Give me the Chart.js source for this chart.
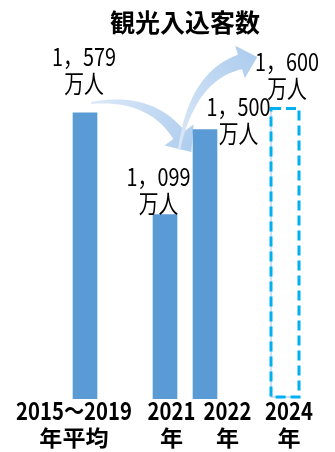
<!DOCTYPE html>
<html>
<head>
<meta charset="utf-8">
<script src="https://cdn.jsdelivr.net/npm/chart.js@4/dist/chart.umd.min.js"></script>
<style>
  body { margin: 0; background: #fff; }
  #wrap { width: 335px; height: 452px; }
</style>
</head>
<body>
<div id="wrap"><canvas id="kankou"></canvas></div>
<script>
// 観光入込客数 (万人)

var categories = [['2015～2019', '年平均'], ['2021', '年'], ['2022', '年'], ['2024', '年']];
var visitors = [1579, 1099, 1500, null];   // 実績
var target = [null, null, null, 1600];     // 目標 (点線)
var unit = '万人';

// each category sits on a 6 slot axis, the other slots stay empty as gaps
var slots = [0, 2, 3, 5];

var FONT = '"Noto Sans CJK JP", "Noto Sans", sans-serif';

var slotLabels = ['', '', '', '', '', ''];
var visitorData = [null, null, null, null, null, null];
var targetData = [null, null, null, null, null, null];
slots.forEach(function (s, i) {
  slotLabels[s] = categories[i].join('');
  visitorData[s] = visitors[i];
  targetData[s] = target[i];
});

// label offsets from bar centre / bar top (the 2022 one sits beside its bar)
var valueOffset = [[-1, -29], [-6.5, -11], [33.5, 4], [2, -20]];
var catOffset = [-11, 6.5, 22.5, 4];

function txt(ctx, s, x, y, font, sx, sy) {
  ctx.save();
  ctx.translate(x, y);
  ctx.scale(sx, sy);
  ctx.font = font;
  ctx.fillStyle = '#000';
  ctx.textAlign = 'center';
  ctx.textBaseline = 'middle';
  ctx.fillText(s, 0, 0);
  ctx.restore();
}

function arrow(ctx, p0, c, p1, w0, w1, headHalf, headLen) {
  var N = 40, left = [], right = [];
  for (var i = 0; i <= N; i++) {
    var t = i / N, u = 1 - t;
    var x = u * u * p0[0] + 2 * u * t * c[0] + t * t * p1[0];
    var y = u * u * p0[1] + 2 * u * t * c[1] + t * t * p1[1];
    var dx = 2 * u * (c[0] - p0[0]) + 2 * t * (p1[0] - c[0]);
    var dy = 2 * u * (c[1] - p0[1]) + 2 * t * (p1[1] - c[1]);
    var len = Math.hypot(dx, dy);
    dx /= len; dy /= len;
    var w = (w0 + (w1 - w0) * t) / 2;
    left.push([x - dy * w, y + dx * w]);
    right.push([x + dy * w, y - dx * w]);
  }
  var ex = p1[0] - c[0], ey = p1[1] - c[1], el = Math.hypot(ex, ey);
  ex /= el; ey /= el;
  var nx = -ey, ny = ex;
  var tip = [p1[0] + ex * headLen, p1[1] + ey * headLen];

  var g = ctx.createLinearGradient(p0[0], p0[1], tip[0], tip[1]);
  g.addColorStop(0, '#dce9f7');
  g.addColorStop(1, '#aecdee');

  ctx.save();
  ctx.beginPath();
  ctx.moveTo(left[0][0], left[0][1]);
  left.forEach(function (p) { ctx.lineTo(p[0], p[1]); });
  ctx.lineTo(p1[0] + nx * headHalf, p1[1] + ny * headHalf);
  ctx.lineTo(tip[0], tip[1]);
  ctx.lineTo(p1[0] - nx * headHalf, p1[1] - ny * headHalf);
  for (var j = right.length - 1; j >= 0; j--) ctx.lineTo(right[j][0], right[j][1]);
  ctx.closePath();
  ctx.fillStyle = g;
  ctx.fill();
  ctx.restore();
}

function barAt(chart, slot) {
  for (var d = 0; d < chart.data.datasets.length; d++) {
    if (chart.data.datasets[d].data[slot] != null) {
      return { el: chart.getDatasetMeta(d).data[slot], ds: d };
    }
  }
  return null;
}

var decor = {
  id: 'decor',
  beforeDatasetsDraw: function (chart) {
    var ctx = chart.ctx;
    arrow(ctx, [91, 103], [150, 95], [179, 135], 2, 14, 18, 21);
    arrow(ctx, [179, 150], [192, 76], [240, 62], 2, 15, 17, 18);
  },
  afterDatasetsDraw: function (chart) {
    var ctx = chart.ctx;
    var bottom = chart.chartArea.bottom;

    // dashed outline for the target bar
    var tm = chart.getDatasetMeta(1);
    tm.data.forEach(function (el, i) {
      if (targetData[i] == null) return;
      var p = el.getProps(['x', 'y', 'base', 'width'], true);
      var l = p.x - p.width / 2;
      var b = Math.min(p.base, bottom - 2);
      ctx.save();
      ctx.strokeStyle = '#9dc3e6';
      ctx.lineWidth = 1;
      ctx.beginPath();
      ctx.moveTo(l, p.y);
      ctx.lineTo(l, b);
      ctx.lineTo(l + p.width, b);
      ctx.stroke();
      ctx.strokeStyle = '#00b0f0';
      ctx.lineWidth = 3;
      ctx.setLineDash([10, 5]);
      ctx.strokeRect(l, p.y, p.width, b - p.y);
      ctx.restore();
    });

    slots.forEach(function (s, i) {
      var hit = barAt(chart, s);
      var el = hit.el;
      var v = chart.data.datasets[hit.ds].data[s];
      var x = el.x + valueOffset[i][0];
      var y2 = el.y + valueOffset[i][1];
      var num = v.toLocaleString('en-US').replace(',', '，');
      txt(ctx, num, x, y2 - 27, '22px ' + FONT, 0.9, 1.12);
      txt(ctx, unit, x, y2, '22px ' + FONT, 0.9, 1.15);

      var cx = el.x + catOffset[i];
      txt(ctx, categories[i][0], cx, bottom + 12, 'bold 22px ' + FONT, 0.92, 1.12);
      txt(ctx, categories[i][1], cx, bottom + 39, 'bold 22px ' + FONT, 1.05, 1.0);
    });
  }
};

new Chart(document.getElementById('kankou'), {
  type: 'bar',
  data: {
    labels: slotLabels,
    datasets: [
      { data: visitorData, backgroundColor: '#5b9bd5', barThickness: 24, grouped: false },
      { data: targetData, backgroundColor: 'rgba(0,0,0,0)', barThickness: 28, grouped: false }
    ]
  },
  options: {
    responsive: true,
    maintainAspectRatio: false,
    animation: false,
    layout: { padding: { left: 65, right: 30, top: 0, bottom: 53 } },
    plugins: {
      legend: { display: false },
      tooltip: { enabled: false },
      title: {
        display: true,
        text: '観光入込客数',
        color: '#000',
        font: { family: FONT, size: 25, weight: 'bold' },
        padding: { top: 7, bottom: 29 }
      }
    },
    scales: {
      x: { display: false },
      y: { display: false, min: 230, max: 1800 }
    }
  },
  plugins: [decor]
});
</script>
</body>
</html>
